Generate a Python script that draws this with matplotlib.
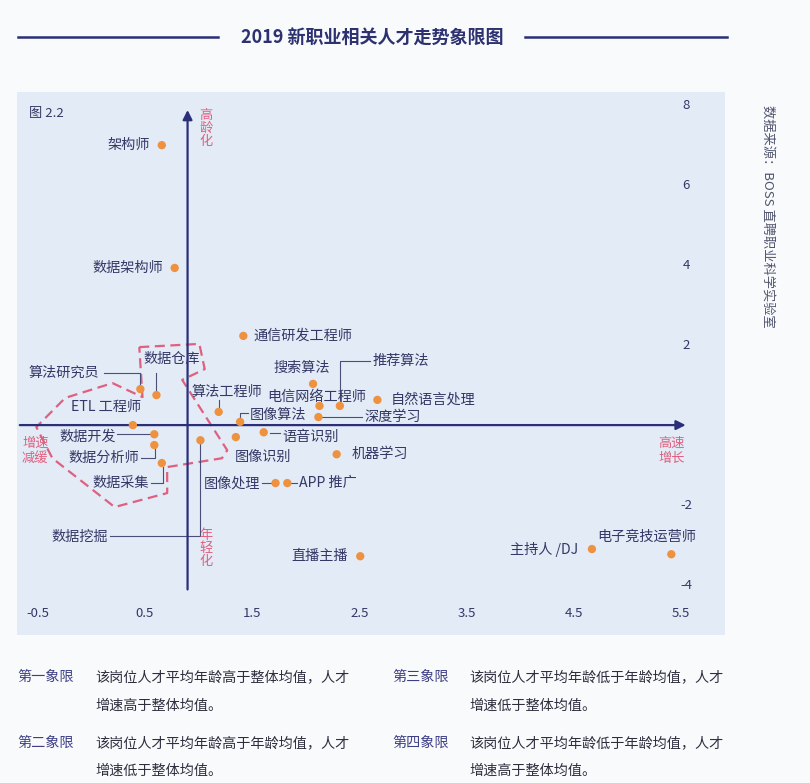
# 2019 新职业相关人才走势象限图 - quadrant chart of job age vs talent growth
import matplotlib
matplotlib.use("Agg")
import matplotlib.pyplot as plt

plt.rcParams['font.family'] = ['Noto Sans CJK SC', 'DejaVu Sans']

# job name, growth (x), age index (y)
jobs = ['架构师', '数据架构师', '通信研发工程师', '算法研究员', '数据仓库', 'ETL 工程师',
        '数据开发', '数据分析师', '数据采集', '数据挖掘', '算法工程师', '图像算法',
        '图像识别', '语音识别', '图像处理', 'APP 推广', '直播主播', '机器学习',
        '搜索算法', '电信网络工程师', '推荐算法', '自然语言处理', '深度学习',
        '主持人 /DJ', '电子竞技运营师']
growth = [0.66, 0.78, 1.42, 0.46, 0.61, 0.39, 0.59, 0.59, 0.66, 1.02, 1.19, 1.39,
          1.35, 1.61, 1.72, 1.83, 2.51, 2.29, 2.07, 2.13, 2.32, 2.67, 2.12, 4.67, 5.41]
age = [7.0, 3.93, 2.23, 0.9, 0.75, 0.0, -0.23, -0.5, -0.95, -0.38, 0.33, 0.08,
       -0.3, -0.18, -1.45, -1.45, -3.28, -0.73, 1.03, 0.48, 0.48, 0.63, 0.2, -3.1, -3.23]

# label anchor (x, y, ha) for each job
label_pos = {
    '架构师': (0.55, 7.0, 'right'),
    '数据架构师': (0.67, 3.93, 'right'),
    '通信研发工程师': (1.51, 2.23, 'left'),
    '算法研究员': (0.08, 1.3, 'right'),
    '数据仓库': (0.75, 1.65, 'center'),
    'ETL 工程师': (0.47, 0.45, 'right'),
    '数据开发': (0.23, -0.3, 'right'),
    '数据分析师': (0.45, -0.83, 'right'),
    '数据采集': (0.54, -1.45, 'right'),
    '数据挖掘': (0.16, -2.8, 'right'),
    '算法工程师': (1.27, 0.83, 'center'),
    '图像算法': (1.48, 0.25, 'left'),
    '图像识别': (1.34, -0.8, 'left'),
    '语音识别': (1.78, -0.3, 'left'),
    '图像处理': (1.58, -1.45, 'right'),
    'APP 推广': (1.94, -1.45, 'left'),
    '直播主播': (2.39, -3.28, 'right'),
    '机器学习': (2.43, -0.73, 'left'),
    '搜索算法': (1.96, 1.43, 'center'),
    '电信网络工程师': (1.64, 0.7, 'left'),
    '推荐算法': (2.62, 1.6, 'left'),
    '自然语言处理': (2.79, 0.63, 'left'),
    '深度学习': (2.55, 0.2, 'left'),
    '主持人 /DJ': (4.54, -3.1, 'right'),
    '电子竞技运营师': (5.18, -2.8, 'center'),
}

# leader lines (x list, y list)
leaders = [
    ([0.12, 0.46, 0.46], [1.3, 1.3, 1.0]),
    ([0.61, 0.61], [1.3, 0.88]),
    ([0.24, 0.55], [-0.23, -0.23]),
    ([0.47, 0.6, 0.6], [-0.83, -0.83, -0.6]),
    ([0.56, 0.67, 0.67], [-1.45, -1.45, -1.05]),
    ([0.18, 1.02, 1.02], [-2.78, -2.78, -0.48]),
    ([1.19, 1.19], [0.63, 0.43]),
    ([1.46, 1.39, 1.39], [0.3, 0.3, 0.15]),
    ([1.67, 1.76], [-0.2, -0.2]),
    ([1.59, 1.69], [-1.45, -1.45]),
    ([1.86, 1.92], [-1.45, -1.45]),
    ([2.32, 2.32, 2.6], [0.58, 1.6, 1.6]),
    ([2.15, 2.53], [0.2, 0.2]),
]

# dashed outline round the data jobs
outline_x = [0.45, 1.01, 1.06, 0.85, 1.27, 1.22, 0.71, 0.71, 0.22, -0.36, -0.51,
             -0.24, 0.2, 0.48, 0.45]
outline_y = [1.95, 2.03, 1.4, 1.13, -0.63, -0.83, -1.05, -1.7, -2.05, -0.83, -0.05,
             0.68, 1.05, 0.7, 1.95]

xticks = [-0.5, 0.5, 1.5, 2.5, 3.5, 4.5, 5.5]
yticks = [8, 6, 4, 2, -2, -4]
x_axis_at = 0.9

navy = '#2b2f78'
text_c = '#343866'
pink = '#e0607f'
dot_c = '#ef9240'

fig = plt.figure(figsize=(8.1, 7.83), dpi=100)
fig.patch.set_facecolor('#f8fafc')

ax = fig.add_axes([0.021, 0.189, 0.874, 0.6935])
ax.set_facecolor('#e2ebf6')
ax.set_xlim(-0.69, 5.91)
ax.set_ylim(-5.25, 8.33)
for s in ax.spines.values():
    s.set_visible(False)
ax.set_xticks([])
ax.set_yticks([])

# quadrant axes with arrows
ax.annotate('', xy=(5.57, 0), xytext=(-0.69, 0),
            arrowprops=dict(arrowstyle='-|>', color=navy, lw=1.6, mutation_scale=14))
ax.annotate('', xy=(x_axis_at, 7.95), xytext=(x_axis_at, -4.18),
            arrowprops=dict(arrowstyle='-|>', color=navy, lw=1.6, mutation_scale=14))

ax.plot(outline_x, outline_y, color=pink, lw=1.6, ls=(0, (4.5, 2.5)))

for lx, ly in leaders:
    ax.plot(lx, ly, color='#4a4e78', lw=0.8)

ax.scatter(growth, age, s=36, color=dot_c, zorder=5, edgecolors='none')

for name in jobs:
    x, y, ha = label_pos[name]
    ax.text(x, y, name, ha=ha, va='center', fontsize=10.2, color=text_c)

for t in xticks:
    ax.text(t, -4.7, str(t), ha='center', va='center', fontsize=9.5, color=text_c)
for t in yticks:
    ax.text(5.55, t, str(t), ha='center', va='center', fontsize=9.5, color=text_c)

ax.text(-0.58, 7.8, '图 2.2', ha='left', va='center', fontsize=9.5, color=text_c)
ax.text(1.07, 7.9, '高\n龄\n化', ha='center', va='top', fontsize=9.5, color=pink, linespacing=1.0)
ax.text(1.07, -2.6, '年\n轻\n化', ha='center', va='top', fontsize=9.5, color=pink, linespacing=1.0)
ax.text(-0.52, -0.65, '增速\n减缓', ha='center', va='center', fontsize=9.5, color=pink, linespacing=1.2)
ax.text(5.41, -0.65, '高速\n增长', ha='center', va='center', fontsize=9.5, color=pink, linespacing=1.2)

# title with side rules
fig.text(0.459, 0.953, '2019 新职业相关人才走势象限图', ha='center', va='center',
         fontsize=13, fontweight='bold', color='#2d3170')
fig.add_artist(plt.Line2D([0.022, 0.269], [0.953, 0.953], color=navy, lw=1.8))
fig.add_artist(plt.Line2D([0.648, 0.898], [0.953, 0.953], color=navy, lw=1.8))

fig.text(0.948, 0.724, '数据来源：BOSS 直聘职业科学实验室', rotation=-90, ha='center', va='center',
         fontsize=9.5, color='#50546e')

# quadrant notes
notes = [
    ('第一象限', '该岗位人才平均年龄高于整体均值，人才', '增速高于整体均值。'),
    ('第二象限', '该岗位人才平均年龄高于年龄均值，人才', '增速低于整体均值。'),
    ('第三象限', '该岗位人才平均年龄低于年龄均值，人才', '增速低于整体均值。'),
    ('第四象限', '该岗位人才平均年龄低于年龄均值，人才', '增速高于整体均值。'),
]
note_x = [0.022, 0.022, 0.484, 0.484]
note_y = [0.135, 0.051, 0.135, 0.051]
for (head, l1, l2), nx, ny in zip(notes, note_x, note_y):
    fig.text(nx, ny, head, ha='left', va='center', fontsize=10.2, color='#3e3f85')
    fig.text(nx + 0.096, ny, l1, ha='left', va='center', fontsize=10.2, color='#2e2e3e')
    fig.text(nx + 0.096, ny - 0.036, l2, ha='left', va='center', fontsize=10.2, color='#2e2e3e')

fig.savefig('out.png', dpi=100, facecolor=fig.get_facecolor())
